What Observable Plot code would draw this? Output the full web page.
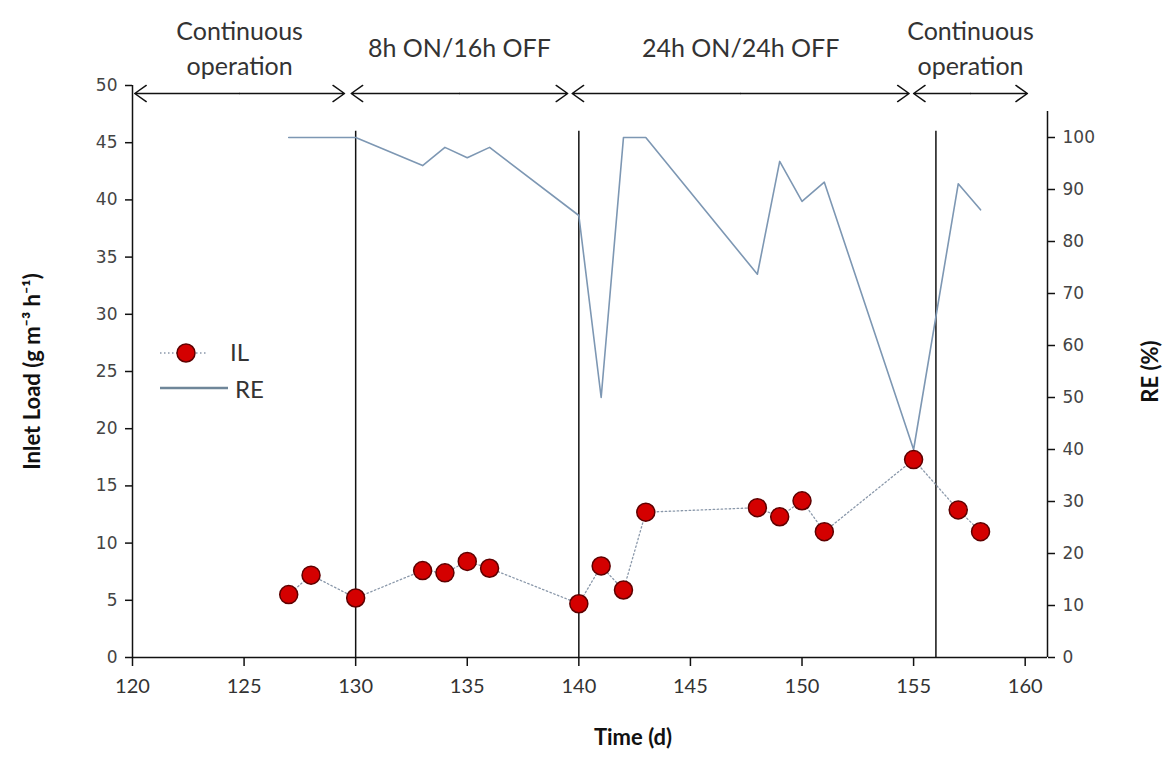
<!DOCTYPE html>
<html><head><meta charset="utf-8">
<script src="https://cdn.jsdelivr.net/npm/d3@7"></script>
<script src="https://cdn.jsdelivr.net/npm/@observablehq/plot@0.6"></script>
<style>body{margin:0;background:#fff} svg{display:block}</style>
</head><body><div id="chart"></div>
<script>
// ---- data ----
const ilDays   = [127,128,130,133,134,135,136,140,141,142,143,148,149,150,151,155,157,158];
const ilValues = [5.5,7.2,5.2,7.6,7.4,8.4,7.8,4.7,8.0,5.9,12.7,13.1,12.3,13.7,11.0,17.3,12.9,11.0];
const reDays   = [127,128,130,133,134,135,136,140,141,142,143,148,149,150,151,155,157,158];
const reValues = [100,100,100,94.6,98.1,96.1,98.1,85.0,50.0,100,100,73.7,95.4,87.7,91.4,40.0,91.1,86.1];
const phaseLabels = ["Continuous\noperation","8h ON/16h OFF","24h ON/24h OFF","Continuous\noperation"];
const phaseStart  = [120.1,129.8,139.7,155.0];
const phaseEnd    = [129.5,139.5,154.8,160.1];
const phaseBoundaries = [130,140,156];
const xTicks  = [120,125,130,135,140,145,150,155,160];
const ilTicks = [0,5,10,15,20,25,30,35,40,45,50];
const reTicks = [0,10,20,30,40,50,60,70,80,90,100];
const ilMax = 50, reMax = 110, reAxisTop = 105;
const k = ilMax / reMax;

const il = ilDays.map((d,i)=>({day:d, v:ilValues[i]}));
const re = reDays.map((d,i)=>({day:d, v:reValues[i]*k}));
const phases = phaseLabels.map((l,i)=>({label:l, s:phaseStart[i], e:phaseEnd[i], m:(phaseStart[i]+phaseEnd[i])/2}));
const arrowY = 49.3;

const plot = Plot.plot({
  width: 1175, height: 758,
  marginLeft: 132, marginRight: 128, marginTop: 85, marginBottom: 101,
  style: {background:"#fff", color:"#111"},
  x: {domain:[120,161]},
  y: {domain:[0,ilMax]},
  marks: [
    Plot.ruleY([0], {stroke:"#111", strokeWidth:1.5}),
    Plot.ruleX([120], {stroke:"#111", strokeWidth:1.5}),
    Plot.ruleX([161], {y1:0, y2:reAxisTop*k, stroke:"#111", strokeWidth:1.5}),
    Plot.axisX({ticks:xTicks, tickSize:9, tickPadding:12, fontSize:20, fontFamily:"Lato", fill:"#333", strokeWidth:1.5, label:null}),
    Plot.axisY({ticks:ilTicks, tickSize:7, tickPadding:8, fontSize:17, fontFamily:"DejaVu Sans", fill:"#444", strokeWidth:1.5, label:null}),
    Plot.axisY(reTicks.map(v=>v*k), {anchor:"right", tickFormat:d=>String(Math.round(d/k)), tickSize:7, tickPadding:8, fontSize:17, fontFamily:"DejaVu Sans", fill:"#444", strokeWidth:1.5, label:null}),
    Plot.text(["Inlet Load (g m⁻³ h⁻¹)"], {frameAnchor:"left", textAnchor:"middle", rotate:-90, dx:-100, fontSize:22, fontWeight:"bold", fontFamily:"Lato", fill:"#111"}),
    Plot.text(["RE (%)"], {frameAnchor:"right", textAnchor:"middle", rotate:-90, dx:103, fontSize:22, fontWeight:"bold", fontFamily:"Lato", fill:"#111"}),
    Plot.text(["Time (d)"], {frameAnchor:"bottom", dx:43, dy:87, fontSize:22, fontWeight:"bold", fontFamily:"Lato", fill:"#111"}),
    // phase boundaries
    Plot.ruleX(phaseBoundaries, {y1:0, y2:46, stroke:"#111", strokeWidth:1.5}),
    // phase arrows (double headed)
    Plot.arrow(phases, {x1:"m", x2:"s", y1:arrowY, y2:arrowY, headLength:14, headAngle:70, stroke:"#111", strokeWidth:1.5}),
    Plot.arrow(phases, {x1:"m", x2:"e", y1:arrowY, y2:arrowY, headLength:14, headAngle:70, stroke:"#111", strokeWidth:1.5}),
    Plot.text(phases, {x:"m", y:53.45, text:"label", fontSize:25, fontFamily:"Lato", fill:"#333", lineHeight:1.4}),
    // RE line
    Plot.line(re, {x:"day", y:"v", stroke:"#7d97b3", strokeWidth:1.6}),
    // IL dotted + dots
    Plot.line(il, {x:"day", y:"v", stroke:"#8a98aa", strokeWidth:1.3, strokeDasharray:"1.5,2.5"}),
    Plot.dot(il, {x:"day", y:"v", r:9, fill:"#d40000", stroke:"#5e0000", strokeWidth:1.5})
  ]
});
document.getElementById("chart").appendChild(plot);

// legend
const svg = d3.select(plot);
const lg = svg.append("g").attr("text-anchor","start");
lg.append("line").attr("x1",160).attr("x2",207).attr("y1",353).attr("y2",353)
  .attr("stroke","#8a98aa").attr("stroke-width",1.3).attr("stroke-dasharray","1.5,2.5");
lg.append("circle").attr("cx",186).attr("cy",353).attr("r",9).attr("fill","#d40000").attr("stroke","#5e0000").attr("stroke-width",1.5);
lg.append("text").attr("x",230).attr("y",353).attr("dy","0.35em").attr("font-family","Lato").attr("font-size",24).attr("fill","#333").text("IL");
lg.append("line").attr("x1",160).attr("x2",228).attr("y1",388).attr("y2",388)
  .attr("stroke","#6f8699").attr("stroke-width",2.6);
lg.append("text").attr("x",235).attr("y",390).attr("dy","0.35em").attr("font-family","Lato").attr("font-size",24).attr("fill","#333").text("RE");
</script>
</body></html>
